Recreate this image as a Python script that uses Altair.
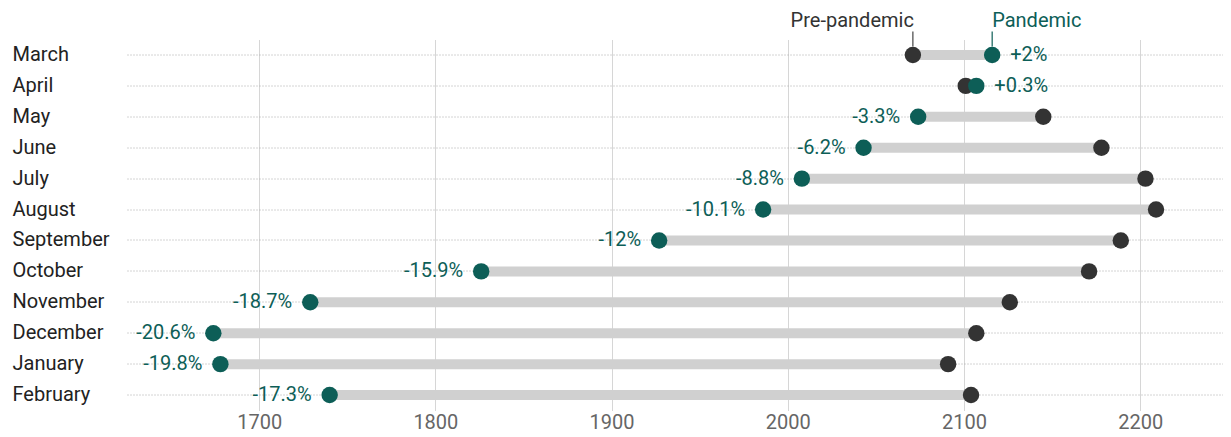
import altair as alt
import pandas as pd

months = ["March", "April", "May", "June", "July", "August", "September",
          "October", "November", "December", "January", "February"]
pre_pandemic = [2071, 2101, 2145, 2178, 2203, 2209, 2189, 2171, 2126, 2107, 2091, 2104]
pandemic = [2116, 2107, 2074, 2043, 2008, 1986, 1927, 1826, 1729, 1674, 1678, 1740]
change_labels = ["+2%", "+0.3%", "-3.3%", "-6.2%", "-8.8%", "-10.1%", "-12%",
                 "-15.9%", "-18.7%", "-20.6%", "-19.8%", "-17.3%"]
x_ticks = [1700, 1800, 1900, 2000, 2100, 2200]

TEAL = "#0d5e57"
DARK = "#333333"
FONT = "Roboto"
FS = 20

df = pd.DataFrame({
    "month": months,
    "pre": pre_pandemic,
    "pan": pandemic,
    "label": change_labels,
})
df["up"] = df["pan"] >= df["pre"]

base = alt.Chart(df)
x_scale = alt.Scale(domain=[1625, 2247], nice=False, zero=False)
y_enc = alt.Y("month:N", sort=months, title=None,
              axis=alt.Axis(grid=True, gridDash=[1, 2], gridColor="#a8a8a8", gridWidth=1,
                            domain=False, ticks=False, labelAlign="left", labelPadding=115,
                            labelFontSize=FS, labelColor="#222222", labelFont=FONT))

bars = base.mark_rule(strokeWidth=10, color="#d0d0d0").encode(
    x=alt.X("pre:Q", scale=x_scale, title=None,
            axis=alt.Axis(values=x_ticks, format="d", grid=True, gridColor="#d6d6d6",
                          domain=False, ticks=False, labelFontSize=FS, labelColor="#666666",
                          labelFont=FONT, labelPadding=2)),
    x2="pan:Q",
    y=y_enc,
)

pre_dots = base.mark_circle(size=270, opacity=1, color=DARK).encode(
    x="pre:Q", y=alt.Y("month:N", sort=months))
pan_dots = base.mark_circle(size=270, opacity=1, color=TEAL).encode(
    x="pan:Q", y=alt.Y("month:N", sort=months))

lab_up = base.transform_filter("datum.up").mark_text(
    align="left", baseline="middle", dx=18, fontSize=FS, color=TEAL, font=FONT).encode(
    x="pan:Q", y=alt.Y("month:N", sort=months), text="label:N")
lab_down = base.transform_filter("!datum.up").mark_text(
    align="right", baseline="middle", dx=-18, fontSize=FS, color=TEAL, font=FONT).encode(
    x="pan:Q", y=alt.Y("month:N", sort=months), text="label:N")

first = base.transform_filter(alt.datum.month == months[0])
ann_pre_tick = first.mark_rule(color="#444444", strokeWidth=1.2).encode(
    x="pre:Q", y=alt.value(-8), y2=alt.value(7))
ann_pan_tick = first.mark_rule(color=TEAL, strokeWidth=1.2).encode(
    x="pan:Q", y=alt.value(-8), y2=alt.value(7))
ann_pre_text = first.mark_text(align="right", baseline="middle", dx=1, fontSize=FS,
                               color="#333333", font=FONT).encode(
    x="pre:Q", y=alt.value(-19), text=alt.value("Pre-pandemic"))
ann_pan_text = first.mark_text(align="left", baseline="middle", dx=0, fontSize=FS,
                               color=TEAL, font=FONT).encode(
    x="pan:Q", y=alt.value(-19), text=alt.value("Pandemic"))

chart = alt.layer(
    bars, ann_pre_tick, ann_pan_tick, pre_dots, pan_dots, lab_up, lab_down,
    ann_pre_text, ann_pan_text,
).properties(
    width=1096, height=371,
    autosize=alt.AutoSizeParams(type="none"),
    padding={"left": 119, "top": 31.5, "right": 0, "bottom": 25},
).configure(font=FONT).configure_view(stroke=None)

chart.save("out.html", embed_options={"renderer": "svg", "actions": False})
